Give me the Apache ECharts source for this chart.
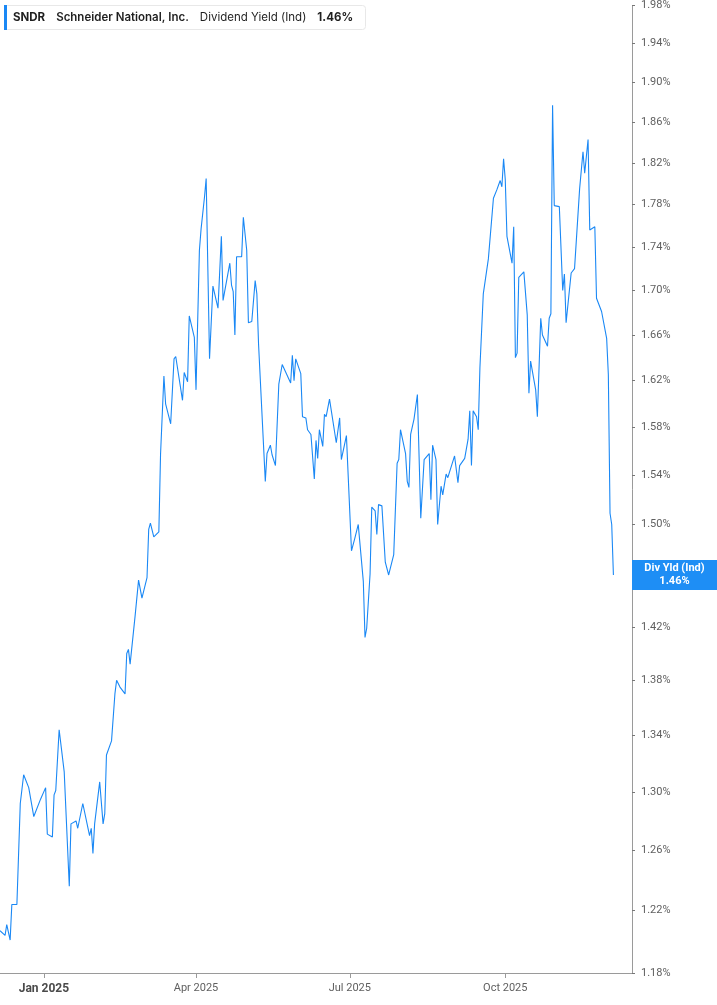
<!DOCTYPE html>
<html>
<head>
<meta charset="utf-8">
<script src="https://cdn.jsdelivr.net/npm/echarts@6/dist/echarts.min.js"></script>
<style>
html,body{margin:0;padding:0;background:#fff;}
#chart{width:717px;height:1005px;}
</style>
</head>
<body>
<div id="chart"></div>
<script>
// Dates of the line's vertices
const dates = [
'2024-12-06','2024-12-09','2024-12-10','2024-12-12','2024-12-13','2024-12-16','2024-12-18','2024-12-19','2024-12-20','2024-12-23',
'2024-12-26','2024-12-30','2025-01-02','2025-01-03','2025-01-06','2025-01-07','2025-01-08','2025-01-10','2025-01-13','2025-01-16',
'2025-01-17','2025-01-20','2025-01-21','2025-01-22','2025-01-24','2025-01-28','2025-01-29','2025-01-30','2025-01-31','2025-02-03',
'2025-02-05','2025-02-06','2025-02-07','2025-02-10','2025-02-12','2025-02-13','2025-02-15','2025-02-18','2025-02-19','2025-02-20',
'2025-02-21','2025-02-24','2025-02-26','2025-02-28','2025-03-03','2025-03-04','2025-03-05','2025-03-07','2025-03-10','2025-03-11',
'2025-03-13','2025-03-14','2025-03-17','2025-03-19','2025-03-20','2025-03-24','2025-03-25','2025-03-27','2025-03-28','2025-03-31',
'2025-04-01','2025-04-03','2025-04-04','2025-04-06','2025-04-07','2025-04-09','2025-04-11','2025-04-14','2025-04-16','2025-04-17',
'2025-04-21','2025-04-22','2025-04-23','2025-04-24','2025-04-25','2025-04-28','2025-04-29','2025-05-01','2025-05-02','2025-05-04',
'2025-05-06','2025-05-07','2025-05-08','2025-05-09','2025-05-12','2025-05-13','2025-05-14','2025-05-15','2025-05-16','2025-05-18',
'2025-05-20','2025-05-21','2025-05-22','2025-05-27','2025-05-28','2025-05-29','2025-05-30','2025-06-02','2025-06-03','2025-06-05',
'2025-06-06','2025-06-08','2025-06-10','2025-06-11','2025-06-12','2025-06-13','2025-06-15','2025-06-16','2025-06-17','2025-06-19',
'2025-06-23','2025-06-25','2025-06-26','2025-06-29','2025-07-02','2025-07-04','2025-07-06','2025-07-09','2025-07-10','2025-07-11',
'2025-07-13','2025-07-14','2025-07-16','2025-07-17','2025-07-18','2025-07-20','2025-07-22','2025-07-24','2025-07-27','2025-07-29',
'2025-07-30','2025-07-31','2025-08-03','2025-08-04','2025-08-05','2025-08-06','2025-08-08','2025-08-10','2025-08-12','2025-08-14',
'2025-08-17','2025-08-18','2025-08-19','2025-08-21','2025-08-22','2025-08-24','2025-08-25','2025-08-26','2025-08-27','2025-08-28',
'2025-09-01','2025-09-02','2025-09-03','2025-09-04','2025-09-07','2025-09-09','2025-09-10','2025-09-11','2025-09-12','2025-09-14',
'2025-09-15','2025-09-16','2025-09-18','2025-09-21','2025-09-22','2025-09-24','2025-09-26','2025-09-28','2025-09-29','2025-09-30',
'2025-10-01','2025-10-02','2025-10-05','2025-10-06','2025-10-07','2025-10-08','2025-10-09','2025-10-12','2025-10-14','2025-10-15',
'2025-10-16','2025-10-19','2025-10-20','2025-10-22','2025-10-23','2025-10-26','2025-10-27','2025-10-28','2025-10-29','2025-10-30',
'2025-11-02','2025-11-04','2025-11-05','2025-11-06','2025-11-09','2025-11-11','2025-11-14','2025-11-16','2025-11-17','2025-11-19',
'2025-11-20','2025-11-23','2025-11-24','2025-11-27','2025-11-30','2025-12-01','2025-12-02','2025-12-03','2025-12-04'
];
// Dividend yield (%) at each date
const yieldValues = [
1.207,1.204,1.211,1.201,1.224,1.224,1.292,1.293,1.312,1.303,
1.283,1.295,1.303,1.271,1.269,1.298,1.301,1.344,1.314,1.236,
1.278,1.280,1.275,1.274,1.292,1.270,1.275,1.258,1.278,1.307,
1.278,1.285,1.326,1.336,1.370,1.380,1.375,1.370,1.400,1.403,
1.392,1.429,1.456,1.442,1.458,1.496,1.501,1.490,1.494,1.557,
1.624,1.600,1.583,1.639,1.641,1.603,1.627,1.619,1.677,1.658,
1.612,1.737,1.757,1.787,1.805,1.639,1.704,1.684,1.750,1.691,
1.725,1.705,1.699,1.660,1.731,1.731,1.768,1.737,1.671,1.672,
1.709,1.697,1.652,1.653,1.535,1.558,1.557,1.565,1.557,1.548,
1.617,1.617,1.634,1.618,1.642,1.620,1.639,1.626,1.589,1.588,
1.578,1.574,1.537,1.569,1.554,1.578,1.564,1.591,1.589,1.604,
1.567,1.588,1.553,1.573,1.479,1.489,1.500,1.455,1.412,1.419,
1.461,1.514,1.511,1.492,1.516,1.515,1.470,1.460,1.476,1.550,
1.553,1.578,1.558,1.535,1.530,1.574,1.587,1.608,1.505,1.553,
1.558,1.520,1.565,1.553,1.500,1.531,1.524,1.525,1.541,1.538,
1.556,1.555,1.534,1.548,1.554,1.570,1.594,1.548,1.594,1.589,
1.578,1.631,1.697,1.729,1.729,1.786,1.794,1.803,1.797,1.824,
1.804,1.750,1.725,1.759,1.640,1.644,1.712,1.717,1.678,1.609,
1.637,1.612,1.589,1.675,1.660,1.650,1.675,1.679,1.877,1.779,
1.778,1.700,1.715,1.671,1.716,1.720,1.795,1.831,1.810,1.843,
1.756,1.759,1.693,1.681,1.657,1.625,1.509,1.500,1.460
];
const yTicks = [1.18,1.22,1.26,1.30,1.34,1.38,1.42,1.46,1.50,1.54,1.58,1.62,1.66,1.70,1.74,1.78,1.82,1.86,1.90,1.94,1.98];
const xTickDates = ['2025-01-01','2025-04-01','2025-07-01','2025-10-01'];
const xTickLabels = ['Jan 2025','Apr 2025','Jul 2025','Oct 2025'];
const xRange = ['2024-12-06','2025-12-15'];
const currentValue = 1.46;
const ticker = 'SNDR';
const company = 'Schneider National, Inc.';
const metric = 'Dividend Yield (Ind)';
const markerName = 'Div Yld (Ind)';

function parseDay(s){ const p = s.split('-').map(Number); return Date.UTC(p[0], p[1]-1, p[2]); }
const xTickTimes = xTickDates.map(parseDay);
const seriesData = dates.map((d,i)=>[parseDay(d), yieldValues[i]]);

const chart = echarts.init(document.getElementById('chart'));
const axisColor = '#9a9a9a';
const labelColor = '#5f5f5f';
chart.setOption({
  animation: false,
  backgroundColor: '#fff',
  title: {
    left: 4, top: 5,
    text: '{bar|}{a|' + ticker + '}{b|' + company + '}{c|' + metric + '}{d|' + currentValue.toFixed(2) + '%}',
    backgroundColor: '#fff',
    borderColor: '#e8e8e8', borderWidth: 1, borderRadius: 3,
    padding: [0, 13, 0, 0],
    textStyle: {
      rich: {
        bar: {width: 3, height: 25, backgroundColor: '#1a88f5'},
        a: {fontFamily: 'Inter', fontSize: 11.5, fontWeight: 'bold', color: '#1f1f1f', padding: [0,0,0,6]},
        b: {fontFamily: 'Inter', fontSize: 11.5, fontWeight: 600, color: '#1f1f1f', padding: [0,0,0,11]},
        c: {fontFamily: 'Inter', fontSize: 11.5, fontWeight: 'normal', color: '#1f1f1f', padding: [0,0,0,11]},
        d: {fontFamily: 'Inter', fontSize: 11.5, fontWeight: 'bold', color: '#1f1f1f', padding: [0,0,0,11]}
      }
    }
  },
  grid: {left: 0, right: 85, top: 3, bottom: 32, containLabel: false},
  xAxis: {
    type: 'value',
    min: parseDay(xRange[0]),
    max: parseDay(xRange[1]),
    axisLine: {show: true, onZero: false, lineStyle: {color: axisColor, width: 1}},
    axisTick: {show: true, length: 5, lineStyle: {color: axisColor}, customValues: xTickTimes},
    splitLine: {show: false},
    axisLabel: {
      customValues: xTickTimes,
      margin: 10,
      fontFamily: 'Roboto', fontSize: 11, color: labelColor,
      formatter: function (v) {
        const i = xTickTimes.indexOf(v);
        const t = i >= 0 ? xTickLabels[i] : '';
        return i === 0 ? '{y|' + t + '}' : t;
      },
      rich: {y: {fontFamily: 'Roboto', fontSize: 12, fontWeight: 'bold', color: '#4a4a4a'}}
    }
  },
  yAxis: {
    type: 'log',
    logBase: 10,
    position: 'right',
    min: 1.18,
    max: 1.98,
    axisLine: {show: true, lineStyle: {color: axisColor, width: 1}},
    axisTick: {show: true, length: 3, inside: false, lineStyle: {color: '#777'}, customValues: yTicks},
    splitLine: {show: false},
    axisLabel: {
      customValues: yTicks,
      margin: 9,
      fontFamily: 'Roboto', fontSize: 11, color: labelColor,
      formatter: function (v) { return Number(v).toFixed(2) + '%'; }
    }
  },
  series: [{
    type: 'line',
    data: seriesData,
    showSymbol: false,
    symbol: 'none',
    lineStyle: {color: '#1a88f5', width: 1.1},
    itemStyle: {color: '#1a88f5'},
    markLine: {
      silent: true,
      symbol: ['none', 'none'],
      lineStyle: {color: 'rgba(0,0,0,0)', width: 0, type: 'solid'},
      emphasis: {disabled: true},
      data: [[
        {coord: [parseDay(xRange[0]), currentValue]},
        {coord: [parseDay(xRange[1]), currentValue]}
      ]],
      label: {
        show: true,
        position: 'end',
        distance: 0,
        formatter: '{t|' + markerName + '}\n{t|' + currentValue.toFixed(2) + '%}',
        backgroundColor: '#1e8ef5',
        padding: [2, 6, 2, 6],
        rich: {
          t: {width: 73, align: 'center', color: '#fff', fontFamily: 'Roboto', fontSize: 11, fontWeight: 'bold', lineHeight: 13}
        }
      }
    }
  }]
});
</script>
</body>
</html>
